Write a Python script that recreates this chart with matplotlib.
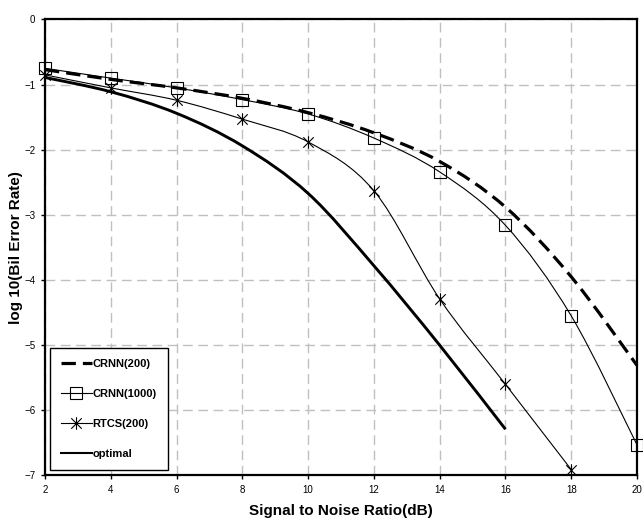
import numpy as np
import matplotlib
matplotlib.use("Agg")
import matplotlib.pyplot as plt
from matplotlib.path import Path
from matplotlib.patches import PathPatch
from matplotlib.lines import Line2D

plt.rcParams['font.family'] = ['Liberation Sans', 'DejaVu Sans']

snr = [2, 4, 6, 8, 10, 12, 14, 16, 18, 20]
crnn200 = [-0.77, -0.92, -1.05, -1.21, -1.43, -1.74, -2.18, -2.88, -3.95, -5.31]
crnn1000 = [-0.75, -0.90, -1.05, -1.23, -1.45, -1.82, -2.34, -3.16, -4.55, -6.53]
snr_rtcs = [2, 4, 6, 8, 10, 12, 14, 16, 18]
rtcs200 = [-0.85, -1.05, -1.24, -1.53, -1.88, -2.63, -4.29, -5.60, -6.91]
snr_opt = [2, 4, 6, 8, 10, 12, 14, 16]
optimal = [-0.89, -1.11, -1.44, -1.94, -2.67, -3.78, -5.00, -6.29]

labels = ['CRNN(200)', 'CRNN(1000)', 'RTCS(200)', 'optimal']


def smooth_path(x, y):
    x = np.asarray(x, float)
    y = np.asarray(y, float)
    pts = np.column_stack([x, y])
    n = len(pts)
    verts = [pts[0]]
    codes = [Path.MOVETO]
    for i in range(n - 1):
        p0 = pts[i - 1] if i > 0 else pts[i]
        p1 = pts[i]
        p2 = pts[i + 1]
        p3 = pts[i + 2] if i + 2 < n else pts[i + 1]
        c1 = p1 + (p2 - p0) / 6.0
        c2 = p2 - (p3 - p1) / 6.0
        verts += [c1, c2, p2]
        codes += [Path.CURVE4] * 3
    return Path(verts, codes)


star = Path([(-1, -1), (1, 1), (-1, 1), (1, -1), (0, -1.2), (0, 1.2)],
            [Path.MOVETO, Path.LINETO, Path.MOVETO, Path.LINETO, Path.MOVETO, Path.LINETO])

DASH = (0, (4.5, 2.2))

fig = plt.figure(figsize=(6.43, 5.25), dpi=100)
ax = fig.add_axes([0.070, 0.0943, 0.9207, 0.8686])

ax.set_xlim(2, 20)
ax.set_ylim(-7, 0)
ax.set_xticks(range(2, 21, 2))
ax.set_yticks(range(-7, 1))
ax.grid(True, color='#c0c0c0', linestyle=(0, (7, 4)), linewidth=1.0)
ax.set_axisbelow(True)

def add_curve(x, y, lw, ls='-'):
    p = PathPatch(smooth_path(x, y), transform=ax.transData, fill=False,
                  edgecolor='black', linewidth=lw, linestyle=ls, zorder=3,
                  capstyle='butt', joinstyle='round')
    p.set_clip_on(False)
    ax.add_patch(p)

add_curve(snr, crnn200, 2.3, DASH)
add_curve(snr, crnn1000, 0.8)
add_curve(snr_rtcs, rtcs200, 0.8)
add_curve(snr_opt, optimal, 2.1)

ax.plot(snr, crnn1000, linestyle='none', marker='s', markersize=8,
        markerfacecolor='none', markeredgecolor='black', markeredgewidth=0.8,
        zorder=4, clip_on=False)
ax.plot(snr_rtcs, rtcs200, linestyle='none', marker=star, markersize=9,
        markerfacecolor='none', markeredgecolor='black', markeredgewidth=0.8,
        zorder=4, clip_on=False)

for s in ax.spines.values():
    s.set_linewidth(1.6)
    s.set_color('black')

ax.tick_params(axis='both', direction='out', length=3, width=1, labelsize=7,
               colors='black', pad=4)

ax.set_xlabel('Signal to Noise Ratio(dB)', fontsize=11, fontweight='bold', labelpad=6)
ax.set_ylabel('log 10(Bil Error Rate)', fontsize=11, fontweight='bold', labelpad=1)

handles = [
    Line2D([], [], color='black', linewidth=2.3, linestyle=DASH),
    Line2D([], [], color='black', linewidth=0.8, marker='s', markersize=8,
           markerfacecolor='none', markeredgewidth=0.8),
    Line2D([], [], color='black', linewidth=0.8, marker=star, markersize=9,
           markerfacecolor='none', markeredgewidth=0.8),
    Line2D([], [], color='black', linewidth=1.5),
]
leg = ax.legend(handles, labels, loc='lower left', bbox_to_anchor=(0.008, 0.012),
                fancybox=False, framealpha=1, edgecolor='black',
                prop={'weight': 'bold', 'size': 8}, labelspacing=1.8,
                handlelength=2.8, handletextpad=0.05, borderpad=1.0,
                borderaxespad=0.0)
leg.get_frame().set_linewidth(1.0)

fig.savefig('out.png', dpi=100)
